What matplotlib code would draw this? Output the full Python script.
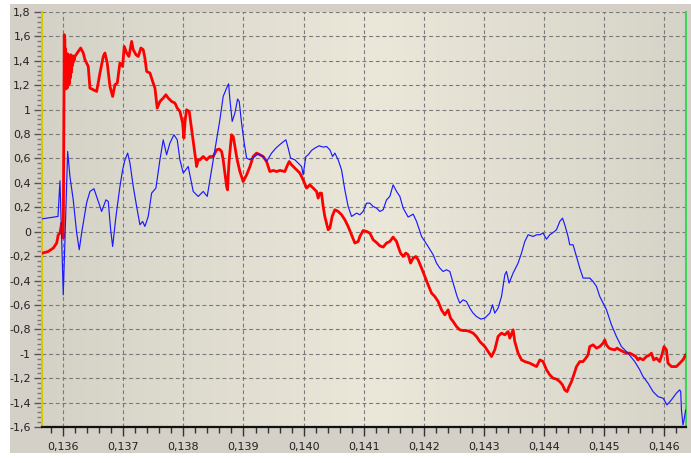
import numpy as np
import matplotlib
matplotlib.use("Agg")
import matplotlib.pyplot as plt
from matplotlib.ticker import MultipleLocator, FuncFormatter
from matplotlib.colors import to_rgb
from matplotlib.patches import Rectangle

# Signal 1 (thin blue trace)
blue_x = [0.135657, 0.135912, 0.135945, 0.136000, 0.136073, 0.136111, 0.136166, 0.136223,
          0.136266, 0.136306, 0.136389, 0.136444, 0.136511, 0.136582, 0.136639, 0.136710,
          0.136749, 0.136789, 0.136822, 0.136877, 0.136943, 0.136988, 0.137027, 0.137072,
          0.137110, 0.137165, 0.137221, 0.137276, 0.137321, 0.137359, 0.137414, 0.137471,
          0.137542, 0.137609, 0.137664, 0.137720, 0.137775, 0.137842, 0.137897, 0.137942,
          0.137997, 0.138080, 0.138163, 0.138246, 0.138330, 0.138396, 0.138496, 0.138607,
          0.138662, 0.138719, 0.138752, 0.138774, 0.138812, 0.138857, 0.138902, 0.138929,
          0.138968, 0.139012, 0.139052, 0.139107, 0.139190, 0.139245, 0.139328, 0.139384,
          0.139468, 0.139539, 0.139634, 0.139706, 0.139744, 0.139784, 0.139855, 0.139910,
          0.139967, 0.139993, 0.140038, 0.140077, 0.140133, 0.140188, 0.140260, 0.140326,
          0.140383, 0.140438, 0.140483, 0.140521, 0.140576, 0.140632, 0.140687, 0.140742,
          0.140799, 0.140882, 0.140937, 0.140992, 0.141048, 0.141103, 0.141158, 0.141215,
          0.141270, 0.141325, 0.141381, 0.141436, 0.141491, 0.141548, 0.141603, 0.141658,
          0.141741, 0.141824, 0.141881, 0.141964, 0.142073, 0.142157, 0.142213, 0.142268,
          0.142323, 0.142380, 0.142435, 0.142490, 0.142556, 0.142601, 0.142656, 0.142712,
          0.142767, 0.142822, 0.142879, 0.142950, 0.143017, 0.143100, 0.143145, 0.143183,
          0.143238, 0.143295, 0.143350, 0.143378, 0.143421, 0.143488, 0.143571, 0.143628,
          0.143683, 0.143738, 0.143821, 0.143878, 0.143933, 0.143987, 0.144044, 0.144099,
          0.144153, 0.144210, 0.144265, 0.144310, 0.144348, 0.144403, 0.144431, 0.144486,
          0.144543, 0.144598, 0.144653, 0.144764, 0.144819, 0.144876, 0.144931, 0.144959,
          0.145042, 0.145125, 0.145208, 0.145291, 0.145401, 0.145513, 0.145596, 0.145651,
          0.145734, 0.145817, 0.145900, 0.145984, 0.146050, 0.146123, 0.146206, 0.146261,
          0.146278, 0.146290, 0.146316, 0.146333, 0.146361]
blue_y = [0.106, 0.125, 0.417, -0.517, 0.657, 0.452, 0.261, -0.009,
          -0.148, -0.009, 0.237, 0.330, 0.352, 0.248, 0.166, 0.261,
          0.248, 0.016, -0.121, 0.125, 0.370, 0.507, 0.589, 0.644,
          0.562, 0.370, 0.207, 0.057, 0.084, 0.043, 0.125, 0.316,
          0.357, 0.589, 0.753, 0.630, 0.726, 0.794, 0.753, 0.589,
          0.480, 0.534, 0.330, 0.289, 0.330, 0.289, 0.589, 0.917,
          1.108, 1.177, 1.212, 1.081, 0.903, 0.972, 1.087, 1.067,
          0.890, 0.726, 0.603, 0.589, 0.616, 0.639, 0.616, 0.575,
          0.644, 0.685, 0.726, 0.753, 0.685, 0.603, 0.589, 0.562,
          0.534, 0.466, 0.616, 0.630, 0.666, 0.685, 0.704, 0.693,
          0.698, 0.671, 0.616, 0.644, 0.589, 0.507, 0.343, 0.207,
          0.125, 0.152, 0.139, 0.166, 0.234, 0.234, 0.207, 0.193,
          0.166, 0.180, 0.261, 0.289, 0.384, 0.330, 0.289, 0.193,
          0.120, 0.144, 0.084, -0.039, -0.121, -0.189, -0.257, -0.298,
          -0.326, -0.312, -0.326, -0.421, -0.531, -0.585, -0.558, -0.572,
          -0.626, -0.667, -0.695, -0.716, -0.708, -0.667, -0.599, -0.667,
          -0.626, -0.531, -0.353, -0.326, -0.421, -0.339, -0.257, -0.175,
          -0.080, -0.025, -0.039, -0.025, -0.025, -0.011, -0.061, -0.025,
          -0.007, 0.016, 0.084, 0.111, 0.057, -0.039, -0.107, -0.107,
          -0.203, -0.298, -0.380, -0.380, -0.408, -0.449, -0.531, -0.558,
          -0.639, -0.763, -0.859, -0.941, -0.995, -1.064, -1.132, -1.187,
          -1.241, -1.310, -1.351, -1.364, -1.419, -1.378, -1.323, -1.296,
          -1.310, -1.460, -1.583, -1.542, -1.460]

# Signal 2 (thick red trace)
red_x = [0.135657, 0.135750, 0.135834, 0.135890, 0.135917, 0.135945, 0.135973, 0.136000,
         0.136017, 0.136020, 0.136025, 0.136030, 0.136035, 0.136040, 0.136045, 0.136050,
         0.136055, 0.136060, 0.136065, 0.136070, 0.136075, 0.136080, 0.136085, 0.136090,
         0.136095, 0.136100, 0.136105, 0.136110, 0.136115, 0.136120, 0.136125, 0.136130,
         0.136135, 0.136140, 0.136145, 0.136150, 0.136155, 0.136160, 0.136170, 0.136178,
         0.136195, 0.136250, 0.136290, 0.136333, 0.136361,
         0.136416, 0.136444, 0.136499, 0.136556, 0.136611, 0.136666, 0.136694, 0.136732,
         0.136777, 0.136822, 0.136860, 0.136899, 0.136943, 0.136988, 0.137015, 0.137055,
         0.137093, 0.137138, 0.137165, 0.137210, 0.137248, 0.137293, 0.137331, 0.137359,
         0.137388, 0.137443, 0.137488, 0.137526, 0.137564, 0.137609, 0.137664, 0.137709,
         0.137747, 0.137804, 0.137859, 0.137897, 0.137942, 0.137987, 0.138008, 0.138030,
         0.138053, 0.138097, 0.138137, 0.138175, 0.138220, 0.138246, 0.138275, 0.138330,
         0.138386, 0.138441, 0.138496, 0.138553, 0.138596, 0.138636, 0.138662, 0.138691,
         0.138719, 0.138735, 0.138745, 0.138762, 0.138801, 0.138829, 0.138857, 0.138895,
         0.138940, 0.138995, 0.139052, 0.139107, 0.139161, 0.139218, 0.139273, 0.139328,
         0.139384, 0.139439, 0.139494, 0.139551, 0.139606, 0.139689, 0.139727, 0.139761,
         0.139800, 0.139855, 0.139939, 0.139993, 0.140050, 0.140105, 0.140160, 0.140216,
         0.140243, 0.140271, 0.140299, 0.140326, 0.140354, 0.140409, 0.140438, 0.140476,
         0.140521, 0.140576, 0.140632, 0.140687, 0.140742, 0.140799, 0.140854, 0.140909,
         0.140937, 0.140992, 0.141048, 0.141103, 0.141158, 0.141215, 0.141270, 0.141325,
         0.141381, 0.141436, 0.141491, 0.141548, 0.141575, 0.141614, 0.141658, 0.141703,
         0.141741, 0.141781, 0.141824, 0.141869, 0.141907, 0.141964, 0.142019, 0.142073,
         0.142130, 0.142185, 0.142240, 0.142296, 0.142351, 0.142406, 0.142446, 0.142490,
         0.142546, 0.142601, 0.142656, 0.142712, 0.142767, 0.142822, 0.142879, 0.142934,
         0.143017, 0.143072, 0.143128, 0.143183, 0.143238, 0.143295, 0.143350, 0.143405,
         0.143433, 0.143488, 0.143516, 0.143571, 0.143628, 0.143683, 0.143766, 0.143821,
         0.143878, 0.143933, 0.143987, 0.144044, 0.144099, 0.144153, 0.144210, 0.144265,
         0.144310, 0.144348, 0.144386, 0.144420, 0.144460, 0.144498, 0.144543, 0.144598,
         0.144653, 0.144698, 0.144736, 0.144764, 0.144819, 0.144876, 0.144931, 0.144986,
         0.145014, 0.145042, 0.145085, 0.145125, 0.145180, 0.145218, 0.145263, 0.145318,
         0.145375, 0.145430, 0.145485, 0.145529, 0.145567, 0.145596, 0.145651, 0.145707,
         0.145762, 0.145790, 0.145828, 0.145873, 0.145928, 0.145973, 0.146000, 0.146040,
         0.146066, 0.146123, 0.146206, 0.146261, 0.146316, 0.146361]
red_y = [-0.175, -0.162, -0.134, -0.093, -0.025, -0.011, 0.070, -0.052,
         1.614, 1.200, 1.580, 1.170, 1.500, 1.180, 1.450, 1.170,
         1.440, 1.190, 1.460, 1.180, 1.430, 1.200, 1.450, 1.220,
         1.420, 1.210, 1.440, 1.250, 1.430, 1.270, 1.450, 1.300,
         1.420, 1.330, 1.440, 1.360, 1.420, 1.380, 1.440, 1.400,
         1.436, 1.477, 1.505, 1.464, 1.409,
         1.354, 1.177, 1.163, 1.149, 1.300, 1.436, 1.464, 1.382,
         1.190, 1.108, 1.204, 1.218, 1.382, 1.354, 1.518, 1.464,
         1.436, 1.559, 1.491, 1.450, 1.436, 1.505, 1.491, 1.423,
         1.313, 1.300, 1.231, 1.177, 1.013, 1.067, 1.095, 1.122,
         1.095, 1.067, 1.054, 1.013, 0.985, 0.890, 0.767, 0.917,
         0.999, 0.985, 0.835, 0.698, 0.534, 0.589, 0.589, 0.616,
         0.589, 0.616, 0.616, 0.671, 0.677, 0.657, 0.589, 0.480,
         0.370, 0.343, 0.452, 0.589, 0.794, 0.780, 0.698, 0.589,
         0.493, 0.411, 0.466, 0.534, 0.616, 0.644, 0.630, 0.616,
         0.575, 0.493, 0.502, 0.493, 0.502, 0.493, 0.540, 0.575,
         0.548, 0.521, 0.480, 0.425, 0.357, 0.384, 0.357, 0.330,
         0.275, 0.316, 0.316, 0.207, 0.125, 0.016, 0.030, 0.125,
         0.180, 0.166, 0.139, 0.098, 0.043, -0.025, -0.093, -0.080,
         -0.039, 0.010, 0.002, -0.011, -0.066, -0.089, -0.116, -0.126,
         -0.093, -0.080, -0.044, -0.080, -0.121, -0.175, -0.203, -0.175,
         -0.189, -0.257, -0.216, -0.203, -0.230, -0.298, -0.367, -0.435,
         -0.503, -0.531, -0.572, -0.640, -0.681, -0.640, -0.708, -0.736,
         -0.777, -0.804, -0.810, -0.810, -0.818, -0.831, -0.859, -0.900,
         -0.941, -0.982, -1.023, -0.968, -0.858, -0.831, -0.845, -0.818,
         -0.872, -0.804, -0.900, -0.995, -1.050, -1.064, -1.077, -1.091,
         -1.105, -1.050, -1.064, -1.132, -1.173, -1.200, -1.208, -1.228,
         -1.255, -1.296, -1.310, -1.269, -1.228, -1.173, -1.105, -1.064,
         -1.064, -1.036, -1.009, -0.941, -0.927, -0.954, -0.941, -0.913,
         -0.886, -0.927, -0.954, -0.962, -0.968, -0.954, -0.968, -0.982,
         -0.995, -0.995, -1.009, -1.023, -1.050, -1.036, -1.050, -1.023,
         -1.009, -0.995, -1.050, -1.036, -1.064, -0.995, -0.941, -0.968,
         -1.077, -1.105, -1.105, -1.077, -1.050, -1.009]

x_range = (0.135646, 0.146366)
y_range = (-1.6, 1.8)

W, H = 691, 463
fig = plt.figure(figsize=(W / 100, H / 100), dpi=100, facecolor="white")

# grey window panel behind the chart
panel = Rectangle((10 / W, (H - 453) / H), (W - 10) / W, (453 - 4) / H,
                  transform=fig.transFigure, facecolor="#d4d0c8",
                  edgecolor="none", zorder=-10)
fig.add_artist(panel)

ax = fig.add_axes([42 / W, (H - 427) / H, (686 - 42) / W, (427 - 12) / H])
ax.set_zorder(1)
ax.set_facecolor("none")

# horizontal background gradient: darker edges, light centre
edge = np.array(to_rgb("#d4d1c6"))
mid = np.array(to_rgb("#ebe8da"))
t = np.linspace(0, 1, 400)
w = np.clip(1 - np.abs(t - 0.52) / 0.52, 0, 1)[:, None]
grad = edge * (1 - w) + mid * w
ax.imshow(grad[None, :, :], extent=[0, 1, 0, 1], transform=ax.transAxes,
          aspect="auto", zorder=0, interpolation="bilinear")

ax.plot(red_x, red_y, color="#ff0000", lw=2.0, zorder=3, solid_joinstyle="round")
ax.plot(blue_x, blue_y, color="#1a1aff", lw=0.85, zorder=4)

ax.set_xlim(*x_range)
ax.set_ylim(*y_range)

ax.xaxis.set_major_locator(MultipleLocator(0.001))
ax.xaxis.set_minor_locator(MultipleLocator(0.0002))
ax.yaxis.set_major_locator(MultipleLocator(0.2))
ax.yaxis.set_minor_locator(MultipleLocator(0.04))


def fmt_x(v, pos):
    return f"{v:.3f}".replace(".", ",")


def fmt_y(v, pos):
    s = f"{v:.1f}"
    if s in ("-0.0", "0.0"):
        return "0"
    s = s.rstrip("0").rstrip(".")
    return s.replace(".", ",")


ax.xaxis.set_major_formatter(FuncFormatter(fmt_x))
ax.yaxis.set_major_formatter(FuncFormatter(fmt_y))

ax.tick_params(axis="x", which="major", length=6.5, width=1, color="#333333",
               labelsize=8, pad=4, labelcolor="#222222")
ax.tick_params(axis="x", which="minor", length=4, width=1, color="#333333")
ax.tick_params(axis="y", which="major", length=6, width=1, color="#555555",
               labelsize=8, pad=2, labelcolor="#222222")
ax.tick_params(axis="y", which="minor", length=3.5, width=1, color="#777777")

ax.grid(True, which="major", color="#7a7a7a", linestyle=(0, (3.5, 2.5)), lw=0.8, zorder=1)
ax.set_axisbelow(True)

ax.spines["top"].set_visible(False)
ax.spines["left"].set_color("#d8c800")
ax.spines["left"].set_linewidth(1.5)
ax.spines["right"].set_color("#3ed45a")
ax.spines["right"].set_linewidth(1.5)
ax.spines["bottom"].set_color("#111111")
ax.spines["bottom"].set_linewidth(1.6)
ax.spines["bottom"].set_linestyle((0, (2.2, 0.8)))

fig.savefig("out.png", dpi=100, facecolor="white")
